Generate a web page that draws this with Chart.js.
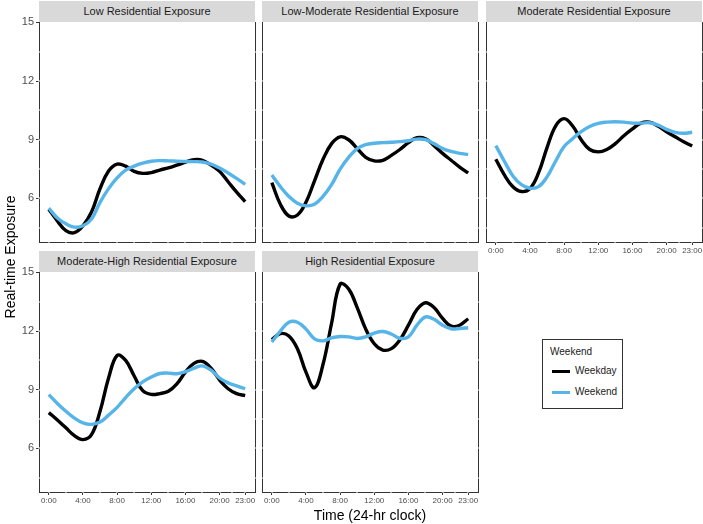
<!DOCTYPE html>
<html>
<head>
<meta charset="utf-8">
<script src="https://cdn.jsdelivr.net/npm/chart.js@4.4.1/dist/chart.umd.min.js"></script>
<style>
  body { margin: 0; background: #fff; font-family: "Liberation Sans", Arial, sans-serif; }
  #wrap { position: relative; width: 703px; height: 524px; overflow: hidden; }
  #wrap canvas { position: absolute; }
  .strip { position: absolute; background: #d9d9d9; color: #1a1a1a; font-size: 11px; text-align: center; }
  .title { position: absolute; color: #000; font-size: 14px; text-align: center; white-space: nowrap; }
  #legend { position: absolute; left: 542px; top: 339px; width: 81px; height: 70px; border: 1px solid #333; box-sizing: border-box; font-size: 10px; color: #1a1a1a; }
  #legend .item { position: absolute; left: 9px; height: 14px; line-height: 14px; }
  #legend .swatch { position: absolute; left: 0; top: 6px; width: 18px; height: 3px; }
  #legend .lbl { position: absolute; left: 23px; top: 0; white-space: nowrap; }
</style>
</head>
<body>
<div id="wrap"></div>
<script>
// hour of day, one point per hour
var hours = [0,1,2,3,4,5,6,7,8,9,10,11,12,13,14,15,16,17,18,19,20,21,22,23];

var xTicks = [0, 4, 8, 12, 16, 20, 23];
var xTickLabels = ['0:00', '4:00', '8:00', '12:00', '16:00', '20:00', '23:00'];
var xMinor = [2, 6, 10, 14, 18, 21.5];
var yTicks = [6, 9, 12, 15];
var yMinor = [4.5, 7.5, 10.5, 13.5];

var panelTitles = ['Low Residential Exposure', 'Low-Moderate Residential Exposure', 'Moderate Residential Exposure',
                   'Moderate-High Residential Exposure', 'High Residential Exposure'];

var lowWeekday = [5.44,4.85,4.35,4.25,4.6,5.3,6.5,7.4,7.75,7.65,7.38,7.28,7.32,7.45,7.56,7.7,7.85,7.98,7.95,7.7,7.38,6.85,6.32,5.83];
var lowWeekend = [5.5,5.0,4.7,4.53,4.6,4.95,5.8,6.5,7.05,7.45,7.65,7.8,7.9,7.93,7.92,7.9,7.89,7.88,7.86,7.75,7.55,7.3,7.02,6.72];

var lowModWeekday = [6.8,5.7,5.1,5.15,5.8,6.9,8.0,8.8,9.15,9.0,8.55,8.1,7.92,7.95,8.2,8.5,8.85,9.1,9.05,8.7,8.3,7.95,7.6,7.3];
var lowModWeekend = [7.2,6.6,6.1,5.75,5.62,5.7,6.1,6.7,7.5,8.1,8.55,8.75,8.82,8.85,8.87,8.9,8.95,9.03,9.0,8.8,8.55,8.4,8.3,8.25];

var modWeekday = [8.0,7.2,6.6,6.35,6.5,7.3,8.6,9.7,10.08,9.7,9.0,8.5,8.38,8.5,8.8,9.2,9.55,9.85,9.9,9.7,9.4,9.15,8.9,8.68];
var modWeekend = [8.7,7.9,7.15,6.7,6.52,6.6,7.1,7.9,8.65,9.05,9.42,9.68,9.84,9.9,9.92,9.9,9.85,9.85,9.87,9.75,9.53,9.38,9.33,9.38];

var modHighWeekday = [7.83,7.45,7.05,6.65,6.45,6.7,7.9,9.6,10.75,10.5,9.7,8.95,8.76,8.8,8.92,9.3,9.9,10.35,10.45,10.1,9.5,9.05,8.8,8.7];
var modHighWeekend = [8.75,8.3,7.9,7.55,7.3,7.23,7.35,7.7,8.1,8.6,9.05,9.4,9.65,9.83,9.85,9.82,9.92,10.1,10.22,10.0,9.6,9.35,9.2,9.05];

var highWeekday = [11.56,11.87,11.75,11.1,9.9,9.1,10.3,12.4,14.4,14.15,13.2,12.1,11.35,11.03,11.1,11.55,12.3,13.1,13.45,13.2,12.65,12.25,12.3,12.63];
var highWeekend = [11.44,12.0,12.45,12.45,12.1,11.6,11.5,11.65,11.72,11.7,11.62,11.7,11.9,11.98,11.85,11.63,11.7,12.3,12.72,12.6,12.3,12.12,12.13,12.17];

var seriesNames = ['Weekday', 'Weekend'];
var seriesColors = ['#000000', '#56B4E9'];

Chart.defaults.font.family = '"Liberation Sans", Arial, sans-serif';

var colLeft = [39, 262, 486];
var rowTop = [22, 272];
var plotW = 216, plotH = 220, axisW = 39, axisH = 24, stripH = 21;

var panels = [
  { title: panelTitles[0], weekday: lowWeekday,     weekend: lowWeekend,     col: 0, row: 0, showX: false },
  { title: panelTitles[1], weekday: lowModWeekday,  weekend: lowModWeekend,  col: 1, row: 0, showX: false },
  { title: panelTitles[2], weekday: modWeekday,     weekend: modWeekend,     col: 2, row: 0, showX: true },
  { title: panelTitles[3], weekday: modHighWeekday, weekend: modHighWeekend, col: 0, row: 1, showX: true },
  { title: panelTitles[4], weekday: highWeekday,    weekend: highWeekend,    col: 1, row: 1, showX: true }
];

function toPoints(vals) {
  return hours.map(function (h, i) { return { x: h, y: vals[i] }; });
}

// white grid lines cutting through the panel frame, as in the original
var frameGaps = {
  id: 'frameGaps',
  afterDraw: function (chart) {
    var ctx = chart.ctx, a = chart.chartArea, x = chart.scales.x, y = chart.scales.y;
    ctx.save();
    ctx.fillStyle = '#ffffff';
    yTicks.concat(yMinor).forEach(function (v) {
      var py = Math.round(y.getPixelForValue(v));
      if (py <= a.top + 1 || py >= a.bottom - 1) return;
      ctx.fillRect(a.left - 1, py - 0.5, 2, 1);
      ctx.fillRect(a.right - 1, py - 0.5, 2, 1);
    });
    xTicks.concat(xMinor).forEach(function (v) {
      var px = Math.round(x.getPixelForValue(v));
      ctx.fillRect(px - 0.5, a.bottom - 1, 1, 2);
    });
    ctx.restore();
  }
};

var wrap = document.getElementById('wrap');

panels.forEach(function (p) {
  var showY = p.col === 0;
  var canvas = document.createElement('canvas');
  var w = axisW + plotW + 3, hgt = 22 + plotH + axisH;
  canvas.width = w; canvas.height = hgt;
  canvas.style.width = w + 'px'; canvas.style.height = hgt + 'px';
  canvas.style.left = (colLeft[p.col] - axisW) + 'px';
  canvas.style.top = (rowTop[p.row] - 22) + 'px';
  wrap.appendChild(canvas);

  var strip = document.createElement('div');
  strip.className = 'strip';
  strip.style.left = colLeft[p.col] + 'px';
  strip.style.top = (rowTop[p.row] - stripH) + 'px';
  strip.style.width = plotW + 'px';
  strip.style.height = stripH + 'px';
  strip.style.lineHeight = stripH + 'px';
  strip.textContent = p.title;
  wrap.appendChild(strip);

  new Chart(canvas, {
    type: 'line',
    data: {
      datasets: [
        { label: seriesNames[0], data: toPoints(p.weekday), borderColor: seriesColors[0], borderWidth: 3.4,
          pointRadius: 0, tension: 0.4, fill: false, order: 1 },
        { label: seriesNames[1], data: toPoints(p.weekend), borderColor: seriesColors[1], borderWidth: 3.4,
          pointRadius: 0, tension: 0.4, fill: false, order: 0 }
      ]
    },
    options: {
      responsive: false,
      animation: false,
      events: [],
      layout: { padding: { left: 0, top: 22, right: 3, bottom: 0 } },
      plugins: { legend: { display: false }, tooltip: { enabled: false } },
      scales: {
        x: {
          type: 'linear', min: -1.15, max: 24.15,
          afterBuildTicks: function (s) { s.ticks = xTicks.map(function (v) { return { value: v }; }); },
          afterFit: function (s) { s.height = axisH; s.paddingLeft = 0; s.paddingRight = 0; },
          ticks: { display: p.showX, autoSkip: false, maxRotation: 0, padding: 1, color: '#4d4d4d', font: { size: 8 },
                   callback: function (v, i) { return xTickLabels[i]; } },
          grid: { display: p.showX, drawOnChartArea: false, tickLength: 3, color: '#333333' },
          border: { display: true, color: '#333333', width: 1 }
        },
        y: {
          type: 'linear', position: 'left', min: 3.77, max: 15.02,
          afterBuildTicks: function (s) { s.ticks = yTicks.map(function (v) { return { value: v }; }); },
          afterFit: function (s) { s.width = axisW; s.paddingTop = 0; s.paddingBottom = 0; },
          ticks: { display: showY, padding: 2, color: '#4d4d4d', font: { size: 11 } },
          grid: { display: showY, drawOnChartArea: false, tickLength: 3, color: '#333333' },
          border: { display: true, color: '#333333', width: 1 }
        },
        y2: {
          type: 'linear', position: 'right', min: 3.77, max: 15.02,
          afterFit: function (s) { s.width = 0; s.paddingTop = 0; s.paddingBottom = 0; },
          ticks: { display: false },
          grid: { display: false },
          border: { display: true, color: '#333333', width: 1 }
        }
      }
    },
    plugins: [frameGaps]
  });
});

// axis titles
var xt = document.createElement('div');
xt.className = 'title';
xt.style.left = (370 - 100) + 'px'; xt.style.top = '507px'; xt.style.width = '200px';
xt.textContent = 'Time (24-hr clock)';
wrap.appendChild(xt);

var yt = document.createElement('div');
yt.className = 'title';
yt.style.left = (10 - 100) + 'px'; yt.style.top = (257 - 9) + 'px'; yt.style.width = '200px';
yt.style.height = '18px'; yt.style.lineHeight = '18px';
yt.style.transform = 'rotate(-90deg)';
yt.textContent = 'Real-time Exposure';
wrap.appendChild(yt);

// legend
var lg = document.createElement('div');
lg.id = 'legend';
var lgTitle = document.createElement('div');
lgTitle.className = 'item';
lgTitle.style.left = '7px'; lgTitle.style.top = '5px';
lgTitle.textContent = 'Weekend';
lg.appendChild(lgTitle);
seriesNames.forEach(function (name, i) {
  var it = document.createElement('div');
  it.className = 'item';
  it.style.top = (24 + i * 21) + 'px';
  var sw = document.createElement('div');
  sw.className = 'swatch';
  sw.style.background = seriesColors[i];
  var lb = document.createElement('div');
  lb.className = 'lbl';
  lb.textContent = name;
  it.appendChild(sw); it.appendChild(lb);
  lg.appendChild(it);
});
wrap.appendChild(lg);
</script>
</body>
</html>
